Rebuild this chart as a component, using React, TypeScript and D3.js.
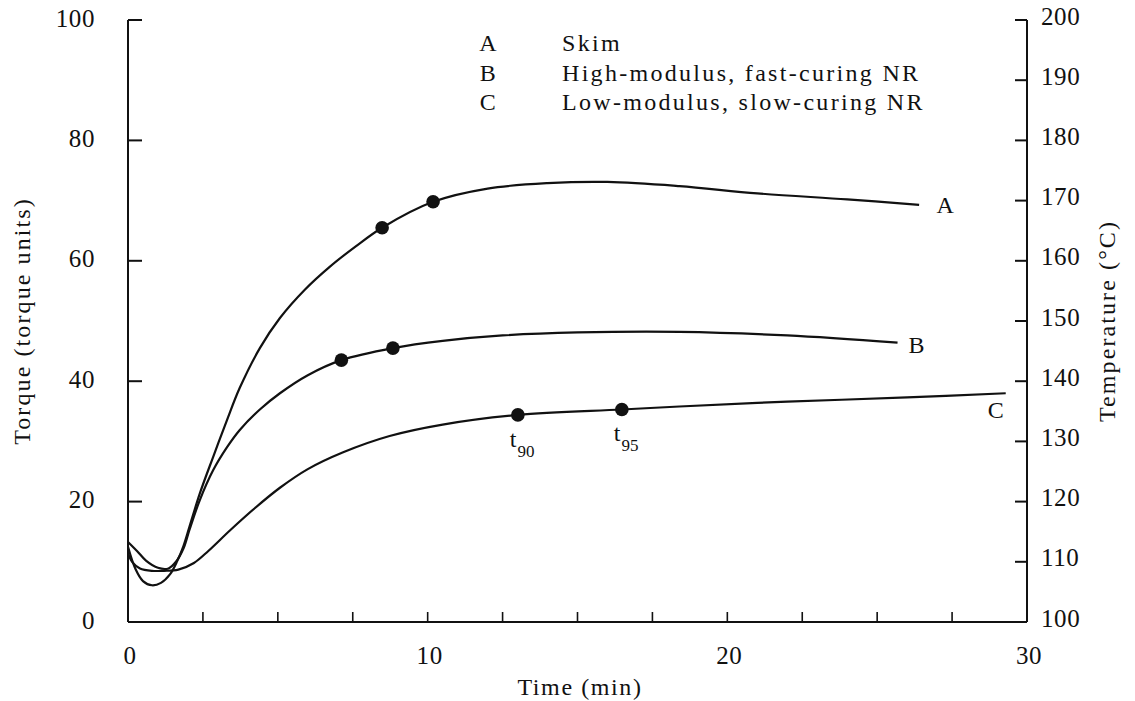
import React from "react";
import * as d3 from "d3";

// Rheometer cure curves: torque vs time for three compounds
const timeA = [0, 0.25, 0.5, 0.8, 1.1, 1.4, 1.65, 1.85, 2.05, 2.4, 2.84, 3.3, 3.73, 4.4, 5.07, 5.9, 6.73, 7.6, 8.48, 10.18, 12, 14, 16, 18.4, 21, 24, 26.4];
const torqueA = [12.5, 8.8, 6.8, 6.1, 6.5, 7.9, 10.2, 12.6, 15.8, 21.4, 27.4, 33.5, 38.9, 45.5, 50.5, 55.2, 59.0, 62.4, 65.5, 69.8, 72, 72.9, 73.1, 72.4, 71.2, 70.2, 69.3];

const timeB = [0, 0.3, 0.6, 1.0, 1.35, 1.6, 1.85, 2.05, 2.4, 2.84, 3.3, 3.73, 4.4, 5.07, 6, 7.12, 8.84, 10.5, 12.5, 15, 18.4, 22, 25.68];
const torqueB = [13.3, 11.8, 10.2, 9.0, 8.9, 10.0, 12.2, 15.3, 20.3, 25.2, 29.0, 31.9, 35.3, 38.0, 41.0, 43.5, 45.5, 46.7, 47.6, 48.1, 48.2, 47.6, 46.4];

const timeC = [0, 0.15, 0.4, 0.8, 1.2, 1.68, 2.2, 2.68, 3.4, 4.23, 5.07, 6, 7.18, 8.73, 10.5, 13.01, 16.48, 18.4, 22, 26, 29.29];
const torqueC = [11.4, 9.9, 8.9, 8.5, 8.5, 8.7, 9.8, 11.8, 15.2, 18.9, 22.3, 25.4, 28.2, 30.9, 32.8, 34.4, 35.3, 35.8, 36.6, 37.3, 38];

// Marked points (t90 / t95) on each curve
const markTimeA = [8.48, 10.18];
const markTorqueA = [65.5, 69.8];
const markTimeB = [7.12, 8.84];
const markTorqueB = [43.5, 45.5];
const markTimeC = [13.01, 16.48];
const markTorqueC = [34.4, 35.3];
const markLabelsC = ["90", "95"];

const curveNames = ["A", "B", "C"];
const legendNames = ["Skim", "High-modulus, fast-curing NR", "Low-modulus, slow-curing NR"];

const torqueTicks = [0, 20, 40, 60, 80, 100];
const tempTicks = [100, 110, 120, 130, 140, 150, 160, 170, 180, 190, 200];
const timeTicks = [0, 2.5, 5, 7.5, 10, 12.5, 15, 17.5, 20, 22.5, 25, 27.5, 30];
const timeLabels = [0, 10, 20, 30];

const W = 1135;
const H = 701;
const FONT = "'Liberation Serif', 'Times New Roman', serif";
const INK = "#111";

export default function App() {
  const x = d3.scaleLinear().domain([0, 30]).range([128, 1027]);
  const y = d3.scaleLinear().domain([0, 100]).range([622, 20]);
  const yT = d3.scaleLinear().domain([100, 200]).range([622, 20]);

  const line = d3
    .line<[number, number]>()
    .x((d) => x(d[0]))
    .y((d) => y(d[1]))
    .curve(d3.curveCatmullRom.alpha(0.5));

  const series = [
    { t: timeA, v: torqueA, mt: markTimeA, mv: markTorqueA, lab: [27, 0] },
    { t: timeB, v: torqueB, mt: markTimeB, mv: markTorqueB, lab: [20, 2] },
    { t: timeC, v: torqueC, mt: markTimeC, mv: markTorqueC, lab: [-9, 17] },
  ];

  const textStyle: React.CSSProperties = { fontFamily: FONT, fontSize: 24, letterSpacing: 2.1, fill: INK };
  const numStyle: React.CSSProperties = { fontFamily: FONT, fontSize: 25, letterSpacing: 0.6, fill: INK };

  return (
    <svg
      width={W}
      height={H}
      viewBox={`0 0 ${W} ${H}`}
      style={{ position: "absolute", left: 0, top: 0, background: "#fff" }}
    >
      <rect width={W} height={H} fill="#fff" />

      {/* axes frame */}
      <g stroke={INK} strokeWidth={2} fill="none">
        <line x1={x(0)} x2={x(0)} y1={y(100)} y2={y(0)} />
        <line x1={x(30)} x2={x(30)} y1={yT(200)} y2={yT(100)} />
        <line x1={x(0)} x2={x(30)} y1={y(0)} y2={y(0)} />
        {torqueTicks.filter((d) => d > 0).map((d) => (
          <line key={"lt" + d} x1={x(0)} x2={x(0) + 14} y1={y(d)} y2={y(d)} />
        ))}
        {tempTicks.filter((d) => d > 100).map((d) => (
          <line key={"rt" + d} x1={x(30)} x2={x(30) - 12} y1={yT(d)} y2={yT(d)} />
        ))}
        {timeTicks.filter((d) => d > 0 && d < 30).map((d) => (
          <line key={"bt" + d} x1={x(d)} x2={x(d)} y1={y(0)} y2={y(0) - 10} strokeWidth={1.6} />
        ))}
      </g>

      {/* tick labels */}
      <g style={numStyle}>
        {torqueTicks.map((d) => (
          <text key={"ll" + d} x={95} y={y(d) - 2} textAnchor="end" dominantBaseline="central">
            {d}
          </text>
        ))}
        {tempTicks.map((d) => (
          <text key={"rl" + d} x={1041} y={yT(d) - 4} textAnchor="start" dominantBaseline="central">
            {d}
          </text>
        ))}
        {timeLabels.map((d) => (
          <text key={"bl" + d} x={x(d) + 2} y={655} textAnchor="middle" dominantBaseline="central">
            {d}
          </text>
        ))}
      </g>

      {/* axis titles */}
      <text x={580} y={687} textAnchor="middle" dominantBaseline="central" style={{ ...textStyle, letterSpacing: 1.6 }}>
        Time (min)
      </text>
      <text
        transform={`translate(22,${(y(0) + y(100)) / 2}) rotate(-90)`}
        textAnchor="middle"
        dominantBaseline="central"
        style={textStyle}
      >
        Torque (torque units)
      </text>
      <text
        transform={`translate(1107,${(y(0) + y(100)) / 2}) rotate(-90)`}
        textAnchor="middle"
        dominantBaseline="central"
        style={textStyle}
      >
        Temperature (°C)
      </text>

      {/* legend */}
      <g style={{ ...textStyle, letterSpacing: 2.3 }}>
        {curveNames.map((n, i) => (
          <g key={"lg" + n}>
            <text x={489} y={43 + i * 29.5} textAnchor="middle" dominantBaseline="central">
              {n}
            </text>
            <text x={562} y={43 + i * 29.5} textAnchor="start" dominantBaseline="central">
              {legendNames[i]}
            </text>
          </g>
        ))}
      </g>

      {/* curves */}
      {series.map((s, i) => {
        const pts = s.t.map((t, j) => [t, s.v[j]] as [number, number]);
        const last = pts[pts.length - 1];
        return (
          <g key={"s" + i}>
            <path d={line(pts) || ""} fill="none" stroke={INK} strokeWidth={2.2} />
            {s.mt.map((t, j) => (
              <circle key={"m" + j} cx={x(t)} cy={y(s.mv[j])} r={6.8} fill={INK} />
            ))}
            <text
              x={x(last[0]) + s.lab[0]}
              y={y(last[1]) + s.lab[1]}
              textAnchor="middle"
              dominantBaseline="central"
              style={textStyle}
            >
              {curveNames[i]}
            </text>
          </g>
        );
      })}

      {/* t90 / t95 annotations */}
      {markTimeC.map((t, j) => (
        <text key={"tl" + j} x={x(t) - 8} y={y(markTorqueC[j]) + 32} style={{ fontFamily: FONT, fontSize: 24, fill: INK }}>
          t
          <tspan dx={1} dy={10} style={{ fontSize: 17 }}>
            {markLabelsC[j]}
          </tspan>
        </text>
      ))}
    </svg>
  );
}
